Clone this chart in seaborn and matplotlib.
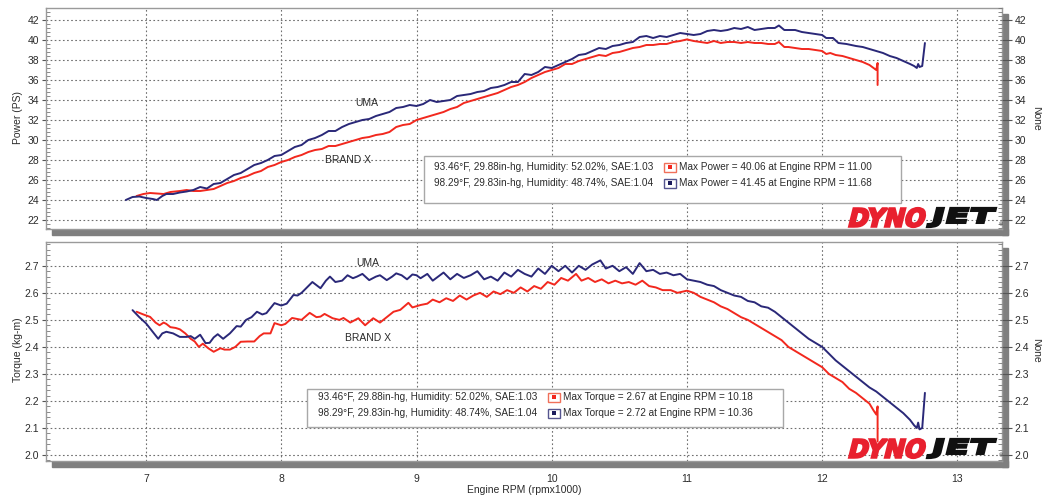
import matplotlib
matplotlib.use("Agg")
import matplotlib.pyplot as plt
import matplotlib.transforms as mtransforms
from matplotlib.patches import Rectangle, PathPatch
from matplotlib.textpath import TextPath
from matplotlib.font_manager import FontProperties
from matplotlib.ticker import MultipleLocator, AutoMinorLocator, NullFormatter
import numpy as np
import pandas as pd
import seaborn as sns

# ---- data ----
uma_power_rpm = [6.85, 6.90, 6.95, 7.00, 7.05, 7.08, 7.12, 7.15, 7.20, 7.25, 7.30, 7.35, 7.40, 7.45,
                 7.50, 7.55, 7.60, 7.65, 7.70, 7.75, 7.80, 7.85, 7.90, 7.95, 8.00, 8.05, 8.10, 8.15,
                 8.20, 8.25, 8.30, 8.35, 8.40, 8.45, 8.50, 8.55, 8.60, 8.65, 8.70, 8.75, 8.80, 8.85,
                 8.90, 8.95, 9.00, 9.05, 9.10, 9.15, 9.20, 9.25, 9.30, 9.35, 9.40, 9.45, 9.50, 9.55,
                 9.60, 9.65, 9.70, 9.75, 9.80, 9.85, 9.90, 9.95, 10.00, 10.05, 10.10, 10.15, 10.20,
                 10.25, 10.30, 10.35, 10.40, 10.45, 10.50, 10.55, 10.60, 10.65, 10.70, 10.75, 10.80,
                 10.85, 10.90, 10.95, 11.00, 11.05, 11.10, 11.15, 11.20, 11.25, 11.30, 11.35, 11.40,
                 11.45, 11.50, 11.55, 11.60, 11.65, 11.68, 11.72, 11.80, 11.85, 11.90, 11.95, 12.00,
                 12.03, 12.08, 12.12, 12.18, 12.25, 12.30, 12.35, 12.40, 12.45, 12.50, 12.55, 12.60,
                 12.65, 12.68, 12.70, 12.71, 12.72, 12.74, 12.76]
uma_power = [24.0, 24.3, 24.35, 24.2, 24.1, 24.0, 24.4, 24.6, 24.6, 24.75, 24.85, 25.0, 25.3, 25.15,
             25.6, 25.7, 26.1, 26.5, 26.7, 27.1, 27.5, 27.7, 28.0, 28.4, 28.5, 28.9, 29.3, 29.5,
             30.0, 30.2, 30.5, 30.9, 30.9, 31.3, 31.6, 31.8, 32.0, 32.1, 32.4, 32.6, 32.8, 33.2,
             33.3, 33.5, 33.4, 33.6, 34.0, 33.8, 33.9, 34.0, 34.4, 34.5, 34.6, 34.8, 34.9, 35.2,
             35.3, 35.5, 35.8, 35.8, 36.6, 36.5, 36.8, 37.3, 37.2, 37.5, 37.8, 38.1, 38.5,
             38.6, 38.9, 39.2, 39.1, 39.4, 39.5, 39.7, 39.8, 40.3, 40.4, 40.2, 40.4,
             40.3, 40.5, 40.7, 40.6, 40.5, 40.6, 40.9, 41.0, 40.9, 41.0, 41.2, 41.1,
             41.3, 41.0, 41.1, 41.2, 41.2, 41.45, 41.0, 41.0, 40.8, 40.7, 40.6, 40.5,
             40.2, 40.2, 39.7, 39.6, 39.4, 39.3, 39.1, 38.9, 38.7, 38.4, 38.2, 37.9,
             37.6, 37.4, 37.2, 37.6, 37.3, 37.4, 39.7]

brandx_power_rpm = [6.93, 6.98, 7.03, 7.08, 7.13, 7.18, 7.25, 7.30, 7.35, 7.40, 7.45, 7.50, 7.55,
                    7.60, 7.65, 7.70, 7.75, 7.80, 7.85, 7.90, 7.95, 8.00, 8.05, 8.10, 8.15, 8.20,
                    8.25, 8.30, 8.35, 8.40, 8.45, 8.50, 8.55, 8.60, 8.65, 8.70, 8.75, 8.80, 8.85,
                    8.90, 8.95, 9.00, 9.05, 9.10, 9.15, 9.20, 9.25, 9.30, 9.35, 9.40, 9.45, 9.50,
                    9.55, 9.60, 9.65, 9.70, 9.75, 9.80, 9.85, 9.90, 9.95, 10.00, 10.05, 10.10,
                    10.15, 10.20, 10.25, 10.30, 10.35, 10.40, 10.45, 10.50, 10.55, 10.60, 10.65,
                    10.70, 10.75, 10.80, 10.85, 10.90, 10.95, 11.00, 11.05, 11.10, 11.15, 11.20,
                    11.25, 11.30, 11.35, 11.40, 11.45, 11.50, 11.55, 11.60, 11.65, 11.68, 11.72,
                    11.75, 11.80, 11.85, 11.90, 11.95, 12.00, 12.03, 12.06, 12.10, 12.15, 12.20,
                    12.25, 12.30, 12.35, 12.38, 12.40, 12.41, 12.41]
brandx_power = [24.4, 24.6, 24.7, 24.65, 24.6, 24.8, 24.9, 25.0, 24.9, 24.9, 25.0, 25.1, 25.4,
                25.7, 25.9, 26.2, 26.4, 26.7, 26.9, 27.3, 27.5, 27.8, 28.0, 28.3, 28.5, 28.8,
                29.0, 29.1, 29.4, 29.4, 29.6, 29.8, 30.0, 30.2, 30.3, 30.5, 30.6, 30.8, 31.3,
                31.5, 31.6, 32.0, 32.2, 32.4, 32.6, 32.8, 33.1, 33.3, 33.7, 33.9, 34.1, 34.3,
                34.5, 34.7, 35.0, 35.3, 35.5, 35.8, 36.2, 36.5, 36.8, 37.0, 37.2, 37.6,
                37.6, 37.9, 38.1, 38.3, 38.5, 38.4, 38.7, 38.8, 39.0, 39.2, 39.3,
                39.5, 39.5, 39.6, 39.6, 39.8, 39.9, 40.06, 39.9, 39.8, 39.7, 39.9,
                39.7, 39.8, 39.8, 39.7, 39.8, 39.7, 39.7, 39.6, 39.6, 39.8, 39.3,
                39.3, 39.2, 39.1, 39.1, 39.0, 38.9, 38.6, 38.7, 38.5, 38.4, 38.2,
                38.0, 37.8, 37.5, 37.2, 37.0, 37.7, 35.5]

uma_torque_rpm = [6.90, 6.95, 7.00, 7.05, 7.09, 7.12, 7.15, 7.20, 7.25, 7.30, 7.33, 7.36, 7.40,
                  7.44, 7.47, 7.50, 7.53, 7.57, 7.62, 7.67, 7.70, 7.74, 7.78, 7.82, 7.86, 7.89,
                  7.95, 8.00, 8.04, 8.09, 8.12, 8.15, 8.19, 8.23, 8.27, 8.29, 8.33, 8.36, 8.40,
                  8.45, 8.49, 8.53, 8.56, 8.60, 8.65, 8.70, 8.73, 8.78, 8.82, 8.85, 8.89, 8.93,
                  8.97, 9.00, 9.03, 9.08, 9.12, 9.16, 9.20, 9.25, 9.30, 9.35, 9.40, 9.45, 9.50,
                  9.55, 9.60, 9.65, 9.70, 9.75, 9.80, 9.85, 9.90, 9.95, 10.00, 10.05, 10.10,
                  10.15, 10.20, 10.25, 10.30, 10.36, 10.40, 10.45, 10.50, 10.55, 10.60, 10.65,
                  10.70, 10.75, 10.80, 10.85, 10.90, 10.95, 11.00, 11.05, 11.10, 11.15, 11.20,
                  11.25, 11.30, 11.35, 11.40, 11.45, 11.50, 11.55, 11.60, 11.65, 11.70, 11.75,
                  11.80, 11.85, 11.90, 11.95, 12.00, 12.05, 12.10, 12.15, 12.20, 12.25, 12.30,
                  12.35, 12.40, 12.45, 12.50, 12.55, 12.60, 12.65, 12.68, 12.70, 12.71, 12.72,
                  12.74, 12.76]
uma_torque = [2.536, 2.51, 2.487, 2.455, 2.43, 2.45, 2.456, 2.45, 2.437, 2.437, 2.44, 2.43, 2.445,
              2.414, 2.415, 2.435, 2.447, 2.43, 2.45, 2.477, 2.475, 2.50, 2.51, 2.53, 2.52, 2.525,
              2.562, 2.553, 2.56, 2.592, 2.59, 2.60, 2.62, 2.64, 2.625, 2.617, 2.645, 2.66, 2.64,
              2.645, 2.665, 2.654, 2.66, 2.67, 2.647, 2.66, 2.665, 2.647, 2.66, 2.672, 2.665, 2.65,
              2.668, 2.665, 2.654, 2.67, 2.645, 2.66, 2.675, 2.65, 2.67, 2.655, 2.665, 2.68, 2.65,
              2.66, 2.645, 2.675, 2.66, 2.685, 2.67, 2.66, 2.69, 2.67, 2.70, 2.68, 2.70,
              2.675, 2.70, 2.685, 2.705, 2.72, 2.69, 2.70, 2.68, 2.695, 2.67, 2.71,
              2.68, 2.685, 2.67, 2.675, 2.665, 2.67, 2.65, 2.645, 2.64, 2.63, 2.625,
              2.61, 2.60, 2.59, 2.585, 2.57, 2.565, 2.55, 2.545, 2.53, 2.51, 2.49,
              2.47, 2.45, 2.43, 2.415, 2.40, 2.375, 2.35, 2.33, 2.31, 2.29, 2.27,
              2.25, 2.235, 2.215, 2.195, 2.175, 2.155, 2.13, 2.11, 2.10, 2.12, 2.095,
              2.10, 2.23]

brandx_torque_rpm = [6.93, 6.98, 7.03, 7.07, 7.10, 7.13, 7.15, 7.18, 7.22, 7.25, 7.29, 7.33, 7.36,
                     7.39, 7.42, 7.46, 7.50, 7.55, 7.58, 7.62, 7.66, 7.70, 7.75, 7.80, 7.84, 7.87,
                     7.92, 7.95, 8.00, 8.03, 8.08, 8.12, 8.15, 8.21, 8.26, 8.29, 8.32, 8.38, 8.43,
                     8.46, 8.51, 8.57, 8.62, 8.68, 8.73, 8.78, 8.83, 8.88, 8.94, 8.97, 9.03, 9.08,
                     9.12, 9.17, 9.22, 9.27, 9.32, 9.37, 9.42, 9.47, 9.52, 9.57, 9.62, 9.67, 9.72,
                     9.77, 9.82, 9.87, 9.92, 9.97, 10.02, 10.07, 10.12, 10.18, 10.22, 10.27, 10.32,
                     10.37, 10.42, 10.47, 10.52, 10.57, 10.62, 10.67, 10.72, 10.77, 10.82, 10.88,
                     10.93, 11.00, 11.05, 11.10, 11.15, 11.20, 11.25, 11.30, 11.35, 11.40, 11.45,
                     11.50, 11.55, 11.60, 11.65, 11.70, 11.75, 11.80, 11.85, 11.90, 11.95, 12.00,
                     12.05, 12.10, 12.15, 12.20, 12.25, 12.30, 12.35, 12.38, 12.40, 12.41, 12.41]
brandx_torque = [2.53, 2.52, 2.511, 2.49, 2.48, 2.49, 2.485, 2.473, 2.47, 2.465, 2.45, 2.43, 2.42,
                 2.40, 2.412, 2.395, 2.382, 2.395, 2.39, 2.39, 2.40, 2.419, 2.42, 2.42, 2.44, 2.45,
                 2.45, 2.488, 2.48, 2.485, 2.507, 2.503, 2.50, 2.526, 2.51, 2.512, 2.522, 2.506, 2.50,
                 2.507, 2.49, 2.506, 2.48, 2.506, 2.49, 2.51, 2.53, 2.537, 2.563, 2.546, 2.555, 2.56,
                 2.575, 2.565, 2.58, 2.57, 2.59, 2.575, 2.59, 2.60, 2.585, 2.605, 2.595, 2.61, 2.60,
                 2.62, 2.605, 2.625, 2.615, 2.64, 2.63, 2.655, 2.645, 2.67, 2.645, 2.655, 2.64,
                 2.65, 2.635, 2.645, 2.635, 2.64, 2.63, 2.645, 2.625, 2.62, 2.61, 2.61,
                 2.60, 2.608, 2.60, 2.585, 2.575, 2.565, 2.55, 2.54, 2.525, 2.51, 2.50,
                 2.485, 2.47, 2.455, 2.44, 2.425, 2.40, 2.385, 2.37, 2.355, 2.34, 2.325,
                 2.30, 2.285, 2.27, 2.245, 2.23, 2.21, 2.19, 2.165, 2.15, 2.18, 2.05]

weather_lines = ["93.46°F, 29.88in-hg, Humidity: 52.02%, SAE:1.03",
                 "98.29°F, 29.83in-hg, Humidity: 48.74%, SAE:1.04"]
power_max_lines = ["Max Power = 40.06 at Engine RPM = 11.00",
                   "Max Power = 41.45 at Engine RPM = 11.68"]
torque_max_lines = ["Max Torque = 2.67 at Engine RPM = 10.18",
                    "Max Torque = 2.72 at Engine RPM = 10.36"]
x_ticks = [7, 8, 9, 10, 11, 12, 13]

RED = "#f2281e"
BLUE = "#2a2878"
TXT = "#2b2b2b"

sns.set_style("white")
plt.rcParams['font.family'] = ['Liberation Sans', 'DejaVu Sans']

W, H = 1042, 495
fig = plt.figure(figsize=(W / 100, H / 100), dpi=100)


def fx(x):
    return x / W


def fy(y):
    return 1 - y / H


def axes_box(left, top, right, bottom):
    return [fx(left), fy(bottom), fx(right) - fx(left), fy(top) - fy(bottom)]


ax1 = fig.add_axes(axes_box(46, 8, 1002, 229))
ax2 = fig.add_axes(axes_box(46, 242, 1002, 461))

# drop shadows under/right of each panel
for top, bot in [(8, 229), (242, 461)]:
    fig.add_artist(Rectangle((fx(52), fy(bot + 6)), fx(1008) - fx(52), fy(bot) - fy(bot + 6),
                             transform=fig.transFigure, color="#7f7f7f", zorder=0))
    fig.add_artist(Rectangle((fx(1002), fy(bot + 6)), fx(1008) - fx(1002), fy(top + 6) - fy(bot + 6),
                             transform=fig.transFigure, color="#7f7f7f", zorder=0))

power_df = pd.concat([
    pd.DataFrame({"rpm": brandx_power_rpm, "val": brandx_power, "run": "BRAND X"}),
    pd.DataFrame({"rpm": uma_power_rpm, "val": uma_power, "run": "UMA"}),
])
torque_df = pd.concat([
    pd.DataFrame({"rpm": brandx_torque_rpm, "val": brandx_torque, "run": "BRAND X"}),
    pd.DataFrame({"rpm": uma_torque_rpm, "val": uma_torque, "run": "UMA"}),
])
palette = {"BRAND X": RED, "UMA": BLUE}

for ax, df in [(ax1, power_df), (ax2, torque_df)]:
    sns.lineplot(data=df, x="rpm", y="val", hue="run", palette=palette, sort=False,
                 estimator=None, linewidth=1.4, legend=False, ax=ax, zorder=3)

# axis limits / ticks
ax1.set_ylim(21.1, 43.2)
ax2.set_ylim(1.978, 2.788)
for ax, major in [(ax1, 2), (ax2, 0.1)]:
    ax.set_xlim(6.26, 13.33)
    ax.set_xticks(x_ticks)
    ax.xaxis.set_minor_locator(MultipleLocator(0.5))
    ax.yaxis.set_major_locator(MultipleLocator(major))
    ax.yaxis.set_minor_locator(AutoMinorLocator(5))
    ax.set_xlabel("")
    ax.set_ylabel("")
    ax.grid(True, which="major", linestyle=(0, (1.5, 2.2)), color="#6f6f6f", linewidth=0.8)
    for s in ax.spines.values():
        s.set_color("#9a9a9a")
        s.set_linewidth(1.0)
    ax.tick_params(axis="y", which="major", direction="out", length=3, color="#555555",
                   labelsize=7.5, labelcolor=TXT, pad=2)
    ax.tick_params(axis="y", which="minor", direction="in", length=3, color="#777777", width=0.6)
    ax.tick_params(axis="x", which="major", length=0, labelsize=7.5, labelcolor=TXT, pad=9)
    ax.set_axisbelow(True)

    twin = ax.twinx()
    twin.set_ylim(ax.get_ylim())
    twin.yaxis.set_major_locator(MultipleLocator(major))
    twin.yaxis.set_minor_locator(AutoMinorLocator(5))
    twin.tick_params(axis="y", which="major", direction="out", length=7, color="#555555",
                     labelsize=7.5, labelcolor=TXT, pad=2)
    twin.tick_params(axis="y", which="minor", direction="in", length=3, color="#777777", width=0.6)
    for s in twin.spines.values():
        s.set_visible(False)

ax1.xaxis.set_major_formatter(NullFormatter())
ax1.tick_params(axis="x", which="minor", length=0)
ax2.tick_params(axis="x", which="minor", direction="in", length=6, color="#666666", width=0.8)
ax2.yaxis.set_major_formatter(plt.FormatStrFormatter("%.1f"))

# run labels
ax1.text(8.63, 33.7, "UMA", fontsize=7.5, color=TXT, ha="center", va="center")
ax1.text(8.49, 28.0, "BRAND X", fontsize=7.5, color=TXT, ha="center", va="center")
ax2.text(8.64, 2.709, "UMA", fontsize=7.5, color=TXT, ha="center", va="center")
ax2.text(8.64, 2.433, "BRAND X", fontsize=7.5, color=TXT, ha="center", va="center")

# axis titles
fig.text(fx(18), fy(118), "Power (PS)", rotation=90, fontsize=7.5, color=TXT, ha="center", va="center")
fig.text(fx(18), fy(350), "Torque (kg-m)", rotation=90, fontsize=7.5, color=TXT, ha="center", va="center")
fig.text(fx(1036), fy(118), "None", rotation=-90, fontsize=7.5, color=TXT, ha="center", va="center")
fig.text(fx(1036), fy(350), "None", rotation=-90, fontsize=7.5, color=TXT, ha="center", va="center")
fig.text(fx(524), fy(490), "Engine RPM (rpmx1000)", fontsize=7.5, color=TXT, ha="center", va="center")


# info boxes
def info_box(left, top, right, bottom, text_x, mark_x, rows_y, right_lines):
    fig.add_artist(Rectangle((fx(left), fy(bottom)), fx(right) - fx(left), fy(top) - fy(bottom),
                             transform=fig.transFigure, facecolor="white", edgecolor="#a8a8a8",
                             linewidth=1.0, zorder=5))
    styles = [("#f0705a", RED), ("#55558f", "#1c1c5c")]
    for y, wl, ml, (edge, fill) in zip(rows_y, weather_lines, right_lines, styles):
        fig.text(fx(text_x), fy(y), wl, fontsize=7.2, color=TXT, ha="left", va="center", zorder=6)
        fig.add_artist(Rectangle((fx(mark_x), fy(y + 4.5)), fx(12), fy(0) - fy(9),
                                 transform=fig.transFigure, facecolor="white", edgecolor=edge,
                                 linewidth=1.0, zorder=6))
        fig.add_artist(Rectangle((fx(mark_x + 4), fy(y + 2)), fx(4), fy(0) - fy(4),
                                 transform=fig.transFigure, facecolor=fill, edgecolor="none", zorder=7))
        fig.text(fx(mark_x + 15), fy(y), ml, fontsize=7.2, color=TXT, ha="left", va="center", zorder=6)


info_box(424, 156, 901, 203, 434, 664, [167, 183], power_max_lines)
info_box(307, 389, 783, 427, 318, 548, [397, 413], torque_max_lines)

# DYNOJET logo
fp = FontProperties(family="DejaVu Sans", weight="bold")


def logo_word(word, x0, x1, ytop, ybot, color):
    path = TextPath((0, 0), word, size=1, prop=fp)
    b = path.get_extents()
    h = ybot - ytop
    slant = np.tan(np.radians(14))
    sx = (x1 - x0 - h * slant) / b.width
    sy = h / b.height
    tr = (mtransforms.Affine2D().translate(-b.x0, -b.y0).scale(sx, sy)
          .skew_deg(14, 0).translate(x0, H - ybot))
    fig.add_artist(PathPatch(tr.transform_path(path), facecolor=color, edgecolor=color,
                             linewidth=1.6, joinstyle="miter",
                             transform=mtransforms.IdentityTransform(), zorder=8))


for ytop, ybot in [(208, 227), (439, 458)]:
    logo_word("DYNO", 849, 927, ytop, ybot, "#e8202e")
    logo_word("JET", 927, 996, ytop, ybot, "#111111")
    fig.text(fx(1001), fy(ybot - 2), "®", fontsize=4, color=TXT, ha="center", va="center", zorder=8)

fig.savefig("out.png", dpi=100)
